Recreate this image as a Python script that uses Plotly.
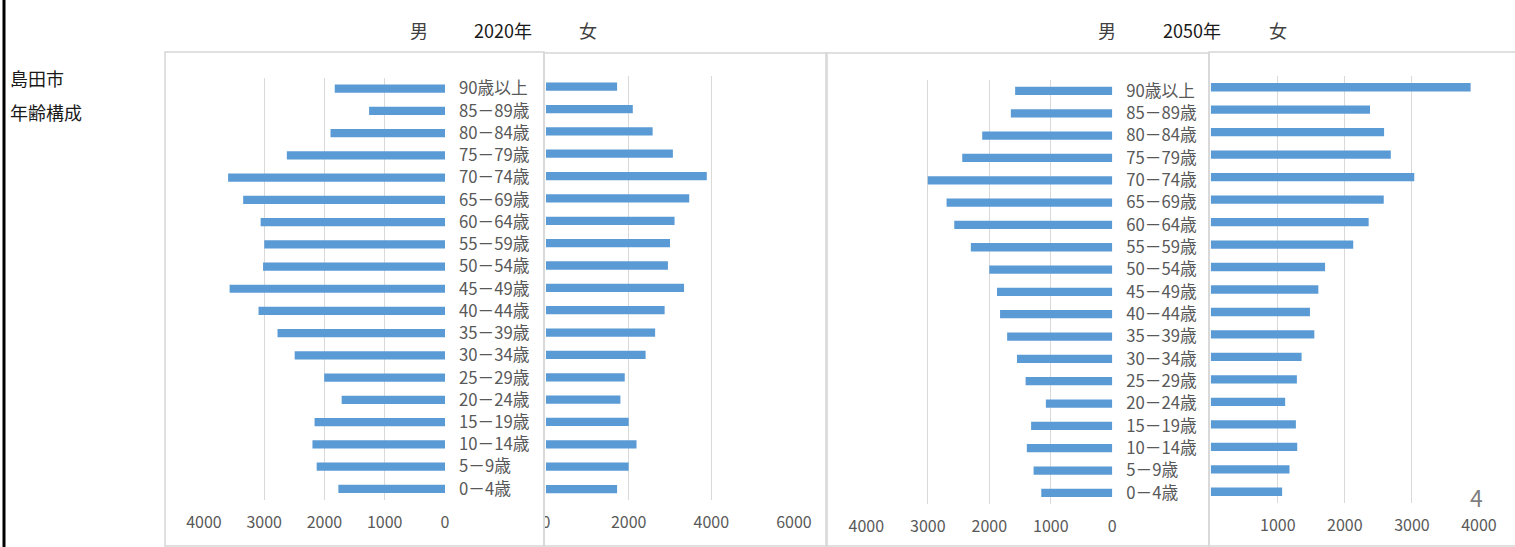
import plotly.graph_objects as go

# ---- data ----
ages = ["0－4歳", "5－9歳", "10－14歳", "15－19歳", "20－24歳", "25－29歳", "30－34歳",
        "35－39歳", "40－44歳", "45－49歳", "50－54歳", "55－59歳", "60－64歳", "65－69歳",
        "70－74歳", "75－79歳", "80－84歳", "85－89歳", "90歳以上"]

male_2020 = [1770, 2130, 2200, 2165, 1715, 2005, 2495, 2780, 3095, 3575,
             3020, 3000, 3060, 3350, 3600, 2625, 1900, 1260, 1830]
female_2020 = [1720, 2000, 2190, 2000, 1800, 1905, 2410, 2640, 2870, 3340,
               2950, 3000, 3110, 3465, 3890, 3070, 2580, 2100, 1720]
male_2050 = [1155, 1280, 1390, 1320, 1080, 1410, 1550, 1710, 1825, 1875,
             2000, 2300, 2570, 2695, 3000, 2440, 2115, 1650, 1580]
female_2050 = [1065, 1175, 1290, 1270, 1110, 1285, 1355, 1545, 1480, 1605,
               1705, 2125, 2355, 2580, 3035, 2685, 2585, 2375, 3875]

ticks_m = [0, 1000, 2000, 3000, 4000]
ticks_f2020 = [0, 2000, 4000, 6000]
ticks_f2050 = [1000, 2000, 3000, 4000]

# ---- styling ----
W, H = 1515, 547
def px(x):
    return x / W
def py(y):
    return 1 - y / H

BAR = "#5B9BD5"
GRID = "#D9D9D9"
TICK = "#595959"
BOX = "#D6D6D6"
FONT = "Noto Sans CJK JP, Noto Sans, sans-serif"

fig = go.Figure()
for vals, xa, ya in [(male_2020, "x", "y"), (female_2020, "x2", "y2"),
                     (male_2050, "x3", "y3"), (female_2050, "x4", "y4")]:
    fig.add_trace(go.Bar(x=vals, y=ages, orientation="h", xaxis=xa, yaxis=ya,
                         marker=dict(color=BAR, line=dict(width=0)),
                         showlegend=False))

def xax(dom, rng, tv, anchor):
    return dict(domain=dom, range=rng, tickvals=tv, showgrid=True, gridcolor=GRID,
                gridwidth=1.3, zeroline=False, showline=False, ticks="",
                tickfont=dict(size=16, color=TICK, family=FONT), anchor=anchor,
                ticklabelstandoff=11, fixedrange=True, automargin=False)

def yax(dom, anchor, labels):
    d = dict(domain=dom, anchor=anchor, type="category", categoryorder="array",
             categoryarray=ages, showgrid=False, zeroline=False, showline=False,
             ticks="", fixedrange=True, automargin=False)
    if labels:
        d.update(side="right", showticklabels=True, ticklabelstandoff=13,
                 tickfont=dict(size=16.7, color=TICK, family=FONT))
    else:
        d.update(showticklabels=False)
    return d

fig.update_layout(
    width=W, height=H, autosize=False,
    margin=dict(l=0, r=0, t=0, b=0, pad=0, autoexpand=False),
    paper_bgcolor="white", plot_bgcolor="white",
    bargap=0.63,
    showlegend=False,
    font=dict(family=FONT),
    xaxis=xax([px(204), px(445)], [4000, 0], ticks_m, "y"),
    yaxis=yax([py(500), py(77.5)], "x", True),
    xaxis2=xax([px(546), px(794)], [0, 6000], ticks_f2020, "y2"),
    yaxis2=yax([py(500.2), py(75.5)], "x2", False),
    xaxis3=xax([px(866.3), px(1112.3)], [4000, 0], ticks_m, "y3"),
    yaxis3=yax([py(504), py(79.8)], "x3", True),
    xaxis4=xax([px(1210.7), px(1479)], [0, 4000], ticks_f2050, "y4"),
    yaxis4=yax([py(503), py(76)], "x4", False),
)

def ann(text, x, y, size, color, xanchor="center"):
    fig.add_annotation(text=text, x=px(x), y=py(y), xref="paper", yref="paper",
                       showarrow=False, xanchor=xanchor, yanchor="middle",
                       font=dict(size=size, color=color, family=FONT))

ann("男", 419, 30, 18, "#404040")
ann("2020年", 503, 30, 18, "#1a1a1a")
ann("女", 588, 30, 18, "#404040")
ann("男", 1107, 30, 18, "#404040")
ann("2050年", 1192, 30, 18, "#1a1a1a")
ann("女", 1278, 30, 18, "#404040")
ann("島田市", 8, 78, 18, "#1a1a1a", "left")
ann("年齢構成", 8, 112, 18, "#1a1a1a", "left")
ann("4", 1476, 497, 23, "#7F7F7F")

shapes = []
# white patch: male 2020 frame overlapping the female "0" label
shapes.append(dict(type="rect", xref="paper", yref="paper", layer="above",
                   x0=px(530), x1=px(545), y0=py(540), y1=py(508),
                   fillcolor="white", line=dict(width=0)))
for x0, x1, y0 in [(165, 544, 52), (544, 827, 53), (826, 1209, 53), (1209, 1530, 52)]:
    shapes.append(dict(type="rect", xref="paper", yref="paper", layer="above",
                       x0=px(x0), x1=px(x1), y0=py(546), y1=py(y0),
                       line=dict(color=BOX, width=1.5), fillcolor="rgba(0,0,0,0)"))
shapes.append(dict(type="line", xref="paper", yref="paper", layer="above",
                   x0=px(4), x1=px(4), y0=0, y1=1, line=dict(color="black", width=3)))
fig.update_layout(shapes=shapes)

fig.write_html("out.html", config={"displayModeBar": False},
               post_script="document.body.style.margin='0';document.body.style.overflow='hidden';")
